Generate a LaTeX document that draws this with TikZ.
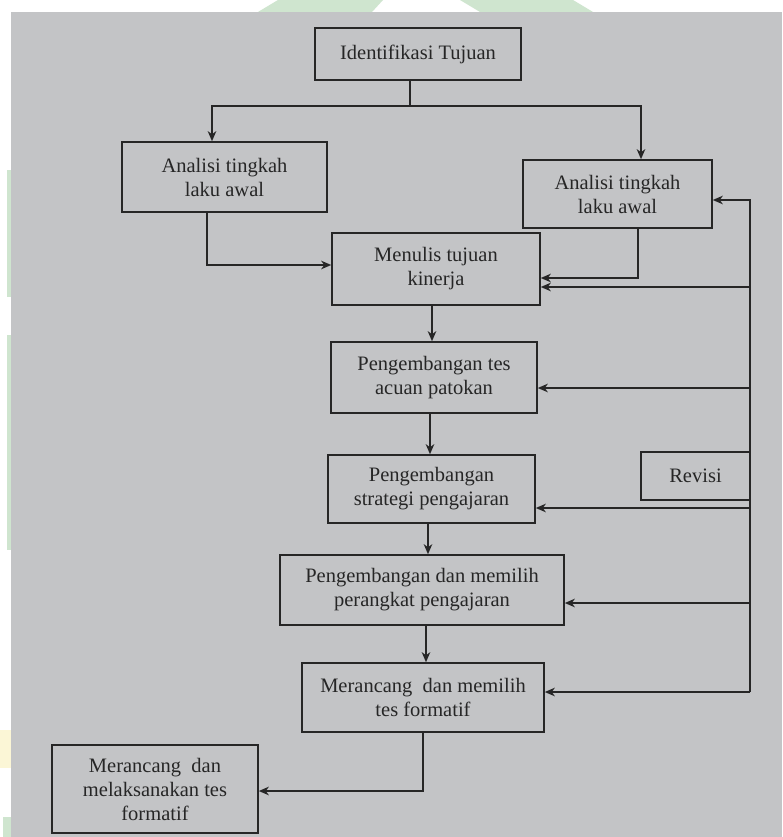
\documentclass[tikz,border=0pt]{standalone}
\usepackage{fontspec}
\setmainfont{Liberation Serif}
\usetikzlibrary{arrows.meta}

\definecolor{page}{HTML}{C3C4C6}
\definecolor{ink}{HTML}{262626}
\definecolor{wmgreen}{HTML}{CFE5CF}
\definecolor{wmyellow}{HTML}{FBF6D6}

\tikzset{
  box/.style={draw=ink, line width=1.6pt, inner sep=0pt, align=center,
    text=ink, font=\fontsize{20.5}{24}\selectfont},
  arr/.style={draw=ink, line width=1.6pt,
    -{Stealth[length=10pt,width=8.5pt,inset=3pt]}},
  ln/.style={draw=ink, line width=1.6pt}
}

\begin{document}
\begin{tikzpicture}[x=1pt,y=-1pt]
  % canvas and photographed page
  \useasboundingbox (0,0) rectangle (782,837);
  \fill[white] (0,0) rectangle (782,837);
  \fill[page] (11,12) rectangle (782,837);

  % watermark fragments along the edges
  \fill[wmgreen] (278,0) -- (383,0) -- (372,12) -- (258,12) -- cycle;
  \fill[wmgreen] (460,0) -- (573,0) -- (593,12) -- (480,12) -- cycle;
  \fill[wmgreen] (7,170) rectangle (11,297);
  \fill[wmgreen] (7,335) rectangle (11,550);
  \fill[wmyellow] (0,730) rectangle (11,768);
  \fill[wmgreen] (3,817) rectangle (11,837);

  % boxes
  \node[box, minimum width=206pt, minimum height=52pt] (iden) at (418,54) {Identifikasi Tujuan};
  \node[box, minimum width=205pt, minimum height=70pt] (la) at (224.5,177) {Analisi tingkah\\laku awal};
  \node[box, minimum width=189pt, minimum height=68pt] (ra) at (617.5,194) {Analisi tingkah\\laku awal};
  \node[box, minimum width=208pt, minimum height=72pt] (menulis) at (436,269) {Menulis tujuan\\kinerja};
  \node[box, minimum width=206pt, minimum height=71pt] (tes) at (434,377.5) {Pengembangan tes\\acuan patokan};
  \node[box, minimum width=207pt, minimum height=68pt] (strat) at (431.5,489) {Pengembangan\\strategi pengajaran};
  \node[box, minimum width=284pt, minimum height=70pt] (perangkat) at (422,590) {Pengembangan dan memilih\\perangkat pengajaran};
  \node[box, minimum width=242pt, minimum height=69pt] (merancang) at (423,697.5) {Merancang\ \ dan memilih\\tes formatif};
  \node[box, minimum width=206pt, minimum height=88pt] (akhir) at (155,789) {Merancang\ \ dan\\melaksanakan tes\\formatif};
  \node[box, minimum width=109pt, minimum height=48pt] (revisi) at (695.5,476) {Revisi};

  % split below the first box
  \coordinate (j) at (410,106);
  \coordinate (jl) at (212,106);
  \coordinate (jr) at (641,106);
  \draw[ln] (iden.south -| j) -- (j);
  \draw[arr] (j) -- (jl) -- (jl |- la.north);
  \draw[arr] (j) -- (jr) -- (jr |- ra.north);

  % both analyses feed the objectives
  \draw[arr] ([xshift=-17.5pt]la.south) |- ([yshift=4pt]menulis.west);
  \draw[arr] ([xshift=20.5pt]ra.south) |- ([yshift=-9pt]menulis.east);

  % main sequence
  \draw[arr] ([xshift=-4pt]menulis.south) -- ([xshift=-4pt]menulis.south |- tes.north);
  \draw[arr] ([xshift=-4pt]tes.south) -- ([xshift=-4pt]tes.south |- strat.north);
  \draw[arr] ([xshift=-3.5pt]strat.south) -- ([xshift=-3.5pt]strat.south |- perangkat.north);
  \draw[arr] ([xshift=4pt]perangkat.south) -- ([xshift=4pt]perangkat.south |- merancang.north);
  \draw[arr] (merancang.south) |- ([yshift=-2pt]akhir.east);

  % revision feedback line
  \coordinate (ftop) at (750,200);
  \coordinate (fbot) at (750,692);
  \draw[arr] (fbot) -- (ftop) -- ([yshift=-6pt]ra.east);
  \draw[arr] (fbot) -- ([yshift=5.5pt]merancang.east);
  \coordinate (f1) at ([yshift=-18pt]menulis.east);
  \coordinate (f2) at ([yshift=-10.5pt]tes.east);
  \coordinate (f3) at ([yshift=-19pt]strat.east);
  \coordinate (f4) at ([yshift=-13pt]perangkat.east);
  \draw[arr] (f1 -| ftop) -- (f1);
  \draw[arr] (f2 -| ftop) -- (f2);
  \draw[arr] (f3 -| ftop) -- (f3);
  \draw[arr] (f4 -| ftop) -- (f4);
\end{tikzpicture}
\end{document}
